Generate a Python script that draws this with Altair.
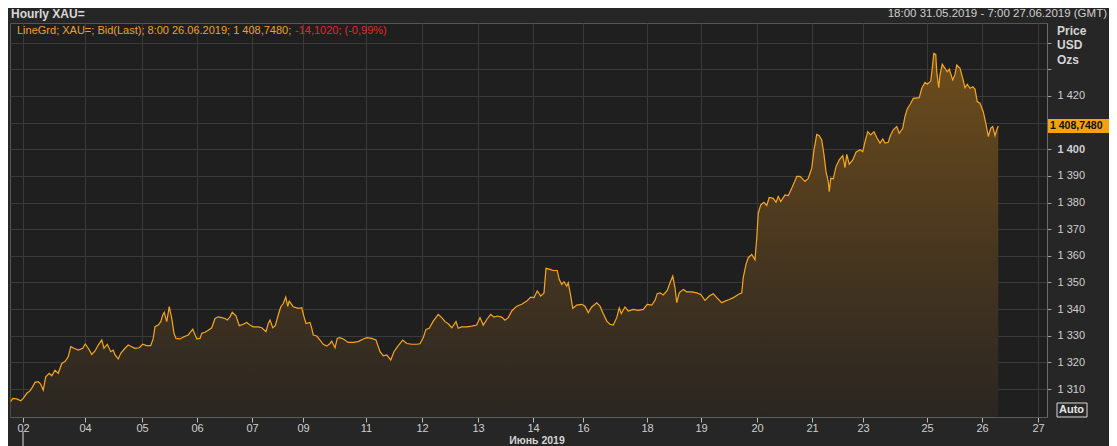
import altair as alt
import pandas as pd

FONT = "Liberation Sans"
W, H = 1037, 394
Y_MIN, Y_MAX = 1299.5, 1447.4
X_MAX = 414.8

# trading-hour offsets from 18:00 31.05.2019 and the hourly bid price
hours = [
    0.3, 1.1, 2.7, 4.3, 5.3, 6.7, 8.0, 9.1, 10.0, 11.3,
    12.3, 13.3, 14.3, 15.7, 16.7, 18.0, 19.3, 20.7, 22.0, 23.3,
    24.3, 25.6, 27.3, 29.1, 30.1, 31.3, 32.7, 34.0, 35.3, 36.7,
    37.6, 38.9, 40.3, 41.3, 42.0, 43.3, 44.3, 46.0, 47.3, 48.7,
    50.0, 51.7, 53.1, 54.7, 56.3, 57.3, 58.0, 59.3, 60.3, 61.1,
    61.7, 62.7, 63.7, 64.7, 65.6, 66.4, 68.0, 69.6, 71.3, 73.1,
    74.7, 76.0, 76.7, 78.0, 79.3, 80.7, 82.0, 83.3, 84.7, 86.0,
    86.9, 88.0, 88.9, 90.4, 91.7, 93.3, 94.7, 96.0, 97.3, 99.3,
    100.7, 102.4, 103.3, 104.0, 105.1, 106.1, 107.3, 108.3, 109.3, 110.3,
    111.1, 111.7, 113.3, 115.3, 116.7, 117.6, 118.4, 120.0, 120.7, 121.3,
    122.7, 124.0, 125.3, 126.7, 128.0, 128.7, 130.0, 130.9, 132.0, 133.3,
    135.3, 137.3, 139.3, 141.3, 142.7, 144.7, 146.4, 148.0, 149.3, 150.7,
    152.3, 153.6, 155.3, 157.1, 158.7, 160.7, 162.7, 164.0, 165.3, 166.4,
    167.7, 169.3, 171.3, 172.7, 174.0, 175.3, 176.7, 178.4, 179.3, 180.7,
    182.7, 184.7, 186.7, 188.0, 189.3, 190.7, 192.3, 193.6, 194.9, 196.7,
    198.0, 199.3, 200.7, 202.7, 204.7, 206.7, 208.3, 209.6, 210.9, 212.3,
    213.6, 214.4, 216.0, 217.3, 218.9, 219.7, 220.7, 221.6, 222.7, 223.3,
    224.3, 225.1, 226.7, 228.7, 230.0, 231.3, 232.7, 234.7, 236.0, 237.3,
    238.7, 240.0, 241.3, 242.7, 243.7, 244.5, 246.0, 247.3, 249.3, 251.3,
    253.3, 254.9, 256.7, 258.0, 258.9, 260.0, 261.3, 262.9, 264.0, 265.1,
    266.0, 266.7, 267.7, 269.3, 270.7, 272.7, 274.7, 276.3, 278.0, 279.7,
    281.3, 282.7, 284.7, 286.0, 287.7, 289.3, 291.3, 292.7, 293.3, 294.4,
    295.3, 296.7, 298.0, 298.7, 299.3, 300.3, 301.6, 302.7, 303.7, 305.3,
    306.4, 307.3, 308.3, 310.0, 311.3, 312.7, 313.6, 314.7, 316.0, 318.0,
    319.3, 320.7, 321.6, 322.7, 323.7, 324.7, 325.6, 326.4, 327.3, 327.7,
    328.3, 329.3, 330.4, 331.7, 333.1, 334.0, 334.7, 335.7, 337.1, 338.4,
    340.0, 341.1, 342.0, 343.1, 344.3, 345.6, 346.7, 348.0, 349.1, 350.0,
    351.3, 352.0, 353.3, 354.7, 355.7, 357.1, 358.0, 358.9, 360.3, 361.3,
    363.7, 364.7, 366.0, 366.9, 368.3, 368.9, 369.5, 370.3, 370.7, 371.5,
    372.0, 372.9, 374.0, 374.9, 375.7, 377.1, 378.0, 378.7, 380.0, 381.1,
    382.0, 382.9, 384.0, 385.1, 386.0, 386.9, 388.0, 389.3, 390.4, 391.3,
    392.3, 393.1, 394.0, 394.7, 395.3,
]
price = [
    1305.3, 1306.5, 1306.3, 1305.6, 1306.5, 1308.4, 1309.3, 1310.9, 1312.5, 1312.8,
    1311.8, 1309.6, 1314.6, 1315.9, 1315.0, 1317.1, 1315.9, 1319.6, 1320.3, 1322.1,
    1325.9, 1325.3, 1324.6, 1325.3, 1326.9, 1325.3, 1323.0, 1324.3, 1326.5, 1328.4,
    1325.3, 1326.8, 1324.0, 1324.6, 1322.8, 1321.3, 1323.4, 1325.3, 1326.5, 1325.9,
    1325.3, 1325.5, 1326.8, 1326.3, 1326.3, 1329.0, 1333.4, 1334.0, 1335.3, 1337.8,
    1338.8, 1335.3, 1340.9, 1336.5, 1330.9, 1329.0, 1328.8, 1329.6, 1330.3, 1332.5,
    1328.8, 1329.0, 1330.9, 1331.3, 1332.1, 1333.0, 1336.5, 1337.1, 1336.8, 1336.5,
    1335.9, 1337.1, 1338.8, 1337.5, 1333.8, 1334.3, 1335.0, 1334.0, 1333.3, 1333.3,
    1333.0, 1331.5, 1334.6, 1335.9, 1333.0, 1333.8, 1337.8, 1340.9, 1342.1, 1344.5,
    1341.0, 1343.0, 1340.9, 1340.3, 1340.5, 1337.1, 1334.6, 1335.0, 1332.8, 1330.3,
    1329.9, 1328.4, 1326.8, 1326.1, 1327.1, 1328.0, 1325.5, 1329.0, 1329.3, 1328.8,
    1327.5, 1327.5, 1327.8, 1328.8, 1329.3, 1329.0, 1328.4, 1324.0, 1322.5, 1322.8,
    1320.9, 1324.0, 1326.3, 1328.4, 1327.1, 1326.8, 1326.8, 1327.0, 1329.3, 1332.4,
    1332.8, 1335.5, 1338.0, 1336.8, 1335.3, 1334.5, 1333.0, 1335.3, 1332.8, 1333.3,
    1333.3, 1333.6, 1334.0, 1336.8, 1334.0, 1336.1, 1338.0, 1337.0, 1337.4, 1337.0,
    1335.8, 1336.8, 1339.3, 1341.1, 1341.8, 1343.0, 1344.5, 1344.3, 1346.8, 1344.9,
    1346.1, 1355.3, 1354.9, 1354.5, 1354.5, 1351.1, 1349.3, 1350.3, 1348.6, 1349.9,
    1344.9, 1340.3, 1341.5, 1341.8, 1341.1, 1338.6, 1340.8, 1342.4, 1341.1, 1338.3,
    1335.5, 1334.3, 1334.0, 1336.8, 1340.5, 1338.3, 1340.8, 1339.3, 1339.9, 1339.5,
    1339.9, 1341.8, 1341.5, 1343.3, 1345.8, 1346.1, 1345.3, 1347.0, 1349.9, 1352.4,
    1348.0, 1342.4, 1346.1, 1347.4, 1346.5, 1346.5, 1346.1, 1345.5, 1343.3, 1344.9,
    1345.8, 1344.3, 1342.4, 1343.0, 1343.6, 1344.3, 1345.5, 1346.1, 1351.8, 1356.8,
    1359.3, 1360.5, 1358.5, 1366.6, 1376.0, 1379.1, 1380.1, 1378.9, 1381.9, 1381.6,
    1380.1, 1382.3, 1380.4, 1382.9, 1382.6, 1385.4, 1387.3, 1389.8, 1389.8, 1387.9,
    1389.1, 1392.9, 1399.8, 1405.6, 1405.1, 1403.5, 1397.9, 1391.6, 1387.9, 1384.1,
    1389.1, 1388.9, 1393.5, 1396.0, 1397.6, 1393.1, 1398.1, 1394.4, 1396.0, 1398.9,
    1399.8, 1399.1, 1402.9, 1406.6, 1405.4, 1406.6, 1404.4, 1402.3, 1403.9, 1402.3,
    1402.6, 1404.8, 1407.3, 1408.5, 1406.0, 1407.9, 1412.3, 1415.1, 1417.3, 1419.1,
    1419.4, 1422.9, 1425.1, 1424.4, 1425.6, 1430.4, 1436.0, 1435.6, 1429.1, 1423.1,
    1427.9, 1431.9, 1430.4, 1429.1, 1430.1, 1426.0, 1428.1, 1431.6, 1430.4, 1426.6,
    1423.1, 1424.4, 1422.9, 1423.5, 1422.6, 1417.9, 1417.3, 1414.1, 1409.4, 1404.8,
    1407.9, 1408.5, 1405.1, 1407.3, 1408.748,
]

tick_hours = [5.2, 30, 52.8, 74.8, 96.8, 117.2, 142.4, 164.8, 187.2, 209.2,
              229.2, 254.8, 276.4, 298.8, 320.8, 341.2, 366.8, 388.8, 411.2]
tick_labels = ["02", "04", "05", "06", "07", "09", "11", "12", "13", "14",
               "16", "18", "19", "20", "21", "23", "25", "26", "27"]
y_ticks = [1310, 1320, 1330, 1340, 1350, 1360, 1370, 1380, 1390, 1400, 1410, 1420, 1430, 1440]

last_price_text = "1 408,7480"
legend_main = "LineGrd; XAU=; Bid(Last); 8:00 26.06.2019; 1 408,7480;"
legend_change = "-14,1020; (-0,99%)"

df = pd.DataFrame({"h": hours, "price": price})

x_label_expr = ("[" + ",".join(f"'{l}'" for l in tick_labels) + "][indexof(["
                + ",".join(str(h) for h in tick_hours) + "], datum.value)]")

xscale = alt.Scale(domain=[0, X_MAX], nice=False, zero=False)
yscale = alt.Scale(domain=[Y_MIN, Y_MAX], nice=False, zero=False)

x_enc = alt.X("h:Q", scale=xscale, axis=alt.Axis(
    values=tick_hours, labelExpr=x_label_expr, title=None, orient="bottom",
    grid=True, gridColor="#3a3a3a", gridWidth=1,
    domainColor="#5a5a5a", tickColor="#bdbdbd", tickSize=5,
    labelColor="#cfcfcf", labelFont=FONT, labelFontSize=11, labelPadding=0,
    labelFlush=False, labelOverlap=False))
y_enc = alt.Y("price:Q", scale=yscale, axis=alt.Axis(
    values=y_ticks, orient="right", title=None,
    labelExpr="(datum.value > 1420 || datum.value == 1410) ? '' : replace(format(datum.value, ','), ',', ' ')",
    labelFontWeight=alt.expr("datum.value == 1400 ? 'bold' : 'normal'"),
    grid=True, gridColor="#3a3a3a", gridWidth=1,
    domainColor="#6a6a6a", tickColor="#9a9a9a", tickSize=4,
    labelColor="#cfcfcf", labelFont=FONT, labelFontSize=11, labelPadding=6,
    labelFlush=False, labelOverlap=False))

gradient = alt.Gradient(
    gradient="linear", x1=0, x2=0, y1=0, y2=1,
    stops=[alt.GradientStop(color="#6e4d1c", offset=0),
           alt.GradientStop(color="#4a381f", offset=0.5),
           alt.GradientStop(color="#2a2622", offset=1)])

area = alt.Chart(df).mark_area(color=gradient, clip=True).encode(
    x=x_enc, y=y_enc, y2=alt.datum(Y_MIN))
line = alt.Chart(df).mark_line(color="#f5a623", strokeWidth=1.2).encode(
    x=x_enc, y=y_enc)


def label(text, x, y, color, size=11, weight="normal", align="left", baseline="middle"):
    return alt.Chart(pd.DataFrame({"t": [text]})).mark_text(
        align=align, baseline=baseline, font=FONT, fontSize=size,
        fontWeight=weight, color=color).encode(
        x=alt.value(x), y=alt.value(y), text="t:N")


last = pd.DataFrame({"price": [price[-1]], "t": [last_price_text]})
tag = alt.Chart(last).mark_rule(color="#f5a20f", strokeWidth=14, strokeCap="butt").encode(
    y=y_enc, x=alt.value(W + 1), x2=alt.value(W + 62))
tag_text = alt.Chart(last).mark_text(
    align="left", baseline="middle", font=FONT, fontSize=10.5, fontWeight="bold",
    color="#111111").encode(y=y_enc, x=alt.value(W + 3), text="t:N")

month_rule = alt.Chart(pd.DataFrame({"h": [tick_hours[0]]})).mark_rule(
    color="#dddddd", strokeWidth=1).encode(
    x=x_enc, y=alt.value(H + 14), y2=alt.value(H + 30))

auto_box = alt.Chart(pd.DataFrame({"a": [0]})).mark_rect(
    fill="#262626", stroke="#d8d8d8", strokeWidth=1).encode(
    x=alt.value(W + 10), x2=alt.value(W + 40), y=alt.value(H - 14), y2=alt.value(H))

layers = [
    area, line, month_rule, tag, tag_text, auto_box,
    label("Auto", W + 12, H - 7, "#e6e6e6", 11, "bold"),
    label("Hourly XAU=", 1, -5, "#d8d8d8", 12, "bold", "left", "alphabetic"),
    label("18:00 31.05.2019 - 7:00 27.06.2019 (GMT)", W + 60, -6, "#cfcfcf", 11.5, "normal", "right", "alphabetic"),
    label(legend_main, 7, 8, "#f0a030", 11),
    label(legend_change, 285, 8, "#e8262a", 11),
    label("Price", W + 10, 8, "#d4d4d4", 12, "bold"),
    label("USD", W + 10, 22, "#d4d4d4", 12, "bold"),
    label("Ozs", W + 10, 37, "#d4d4d4", 12, "bold"),
    label("Июнь 2019", 527, H + 23.5, "#d4d4d4", 10.5, "bold", "center"),
]

chart = alt.layer(*layers).properties(
    width=W, height=H,
    padding={"left": 2, "top": 15, "right": 62, "bottom": 29},
    autosize=alt.AutoSizeParams(type="none"),
    background="#262626",
).configure_view(fill="#1f1f1f", stroke="#555555", strokeWidth=1)

chart.save("out.html", embed_options={"renderer": "svg", "actions": False})
